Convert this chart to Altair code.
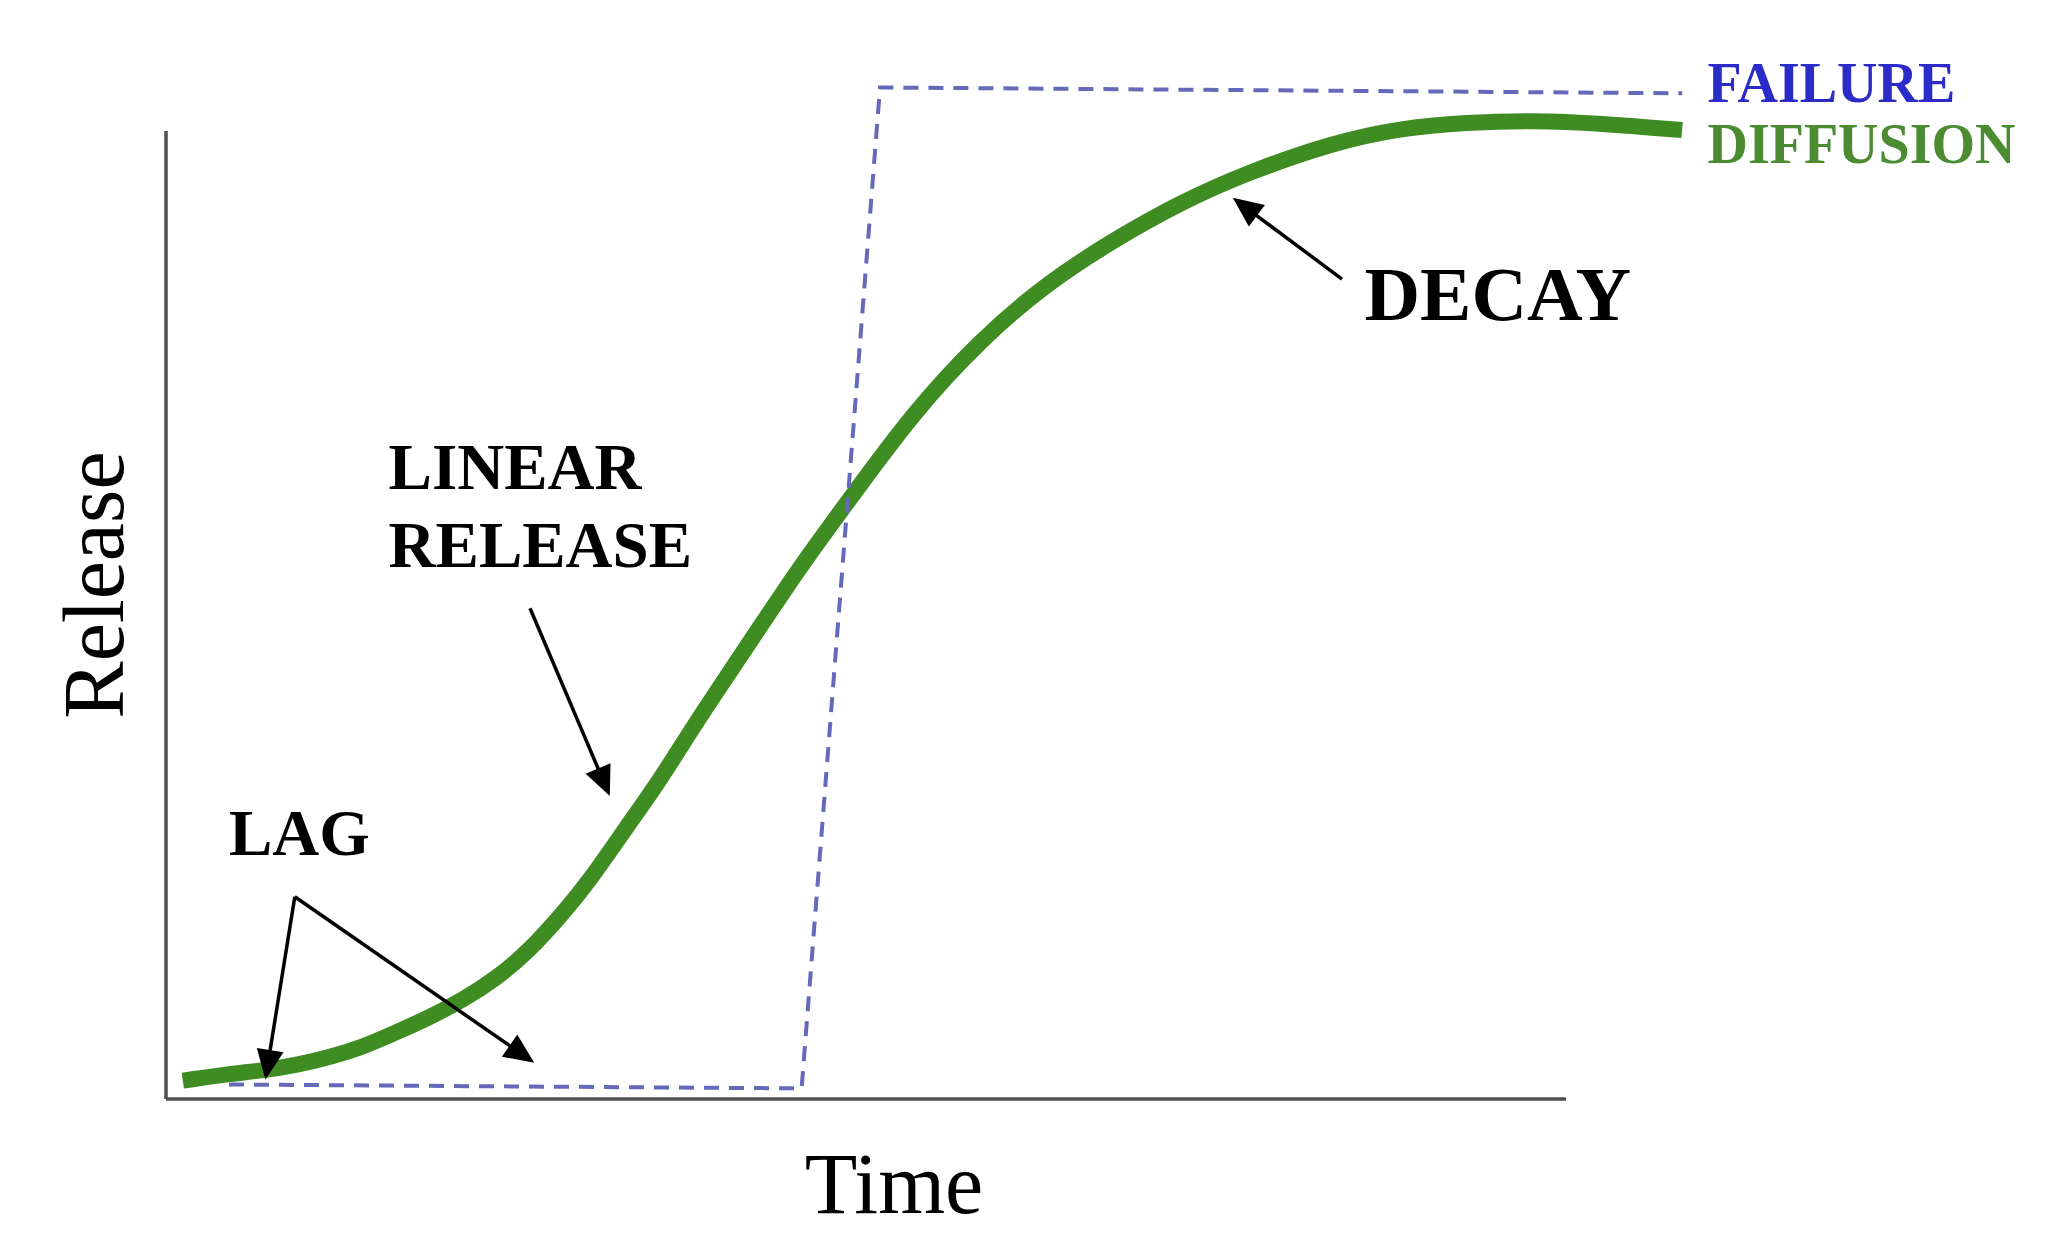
import math
import altair as alt
import pandas as pd

# ---------------- data ----------------
# DIFFUSION curve (green): time vs release, axes run 0..100
diffusion_time = [1.2, 4.57, 6.93, 9.36, 11.71, 14.07, 16.5, 18.86, 21.21, 23.64,
                  26.0, 28.36, 30.29, 32.91, 35.29, 37.66, 40.05, 42.43, 45.29, 48.64,
                  53.36, 58.14, 62.93, 67.64, 72.43, 77.21, 83.36, 88.14, 92.93, 97.64,
                  102.43, 108.29]
diffusion_release = [1.9, 2.6, 2.95, 3.51, 4.34, 5.37, 6.92, 8.47, 10.23, 12.5,
                     15.39, 19.2, 22.62, 28.13, 32.95, 38.46, 43.63, 48.79, 54.99, 61.6,
                     70.9, 78.4, 84.3, 88.7, 92.6, 95.7, 98.8, 100.3, 100.9, 101.1,
                     100.8, 100.1]

# FAILURE curve (blue dashed)
failure_time = [4.5, 45.4, 51.0, 108.3]
failure_release = [1.5, 1.1, 104.5, 103.9]

# annotation labels
label_text = ["LINEAR", "RELEASE", "LAG"]
label_time = [15.9, 15.9, 4.5]
label_release = [65.1, 57.0, 27.3]

decay_text = ["DECAY"]
decay_time = [85.6]
decay_release = [82.9]

# arrows (from -> to)
arrow_from_time = [26.0, 84.0, 9.2, 9.2]
arrow_from_release = [50.7, 84.7, 20.9, 20.9]
arrow_to_time = [31.7, 76.2, 7.1, 26.3]
arrow_to_release = [31.3, 93.1, 2.0, 3.75]

# series end labels
legend_text = ["FAILURE", "DIFFUSION"]
legend_time = [110.1, 110.1]
legend_release = [104.8, 98.5]
legend_color = ["#2b2bc8", "#4b8b32"]

# ---------------- layout ----------------
W, H = 2036, 1240
x_dom = [-11.286, 134.14]
y_dom = [-15.39, 112.71]
px_x = W / (x_dom[1] - x_dom[0])
px_y = H / (y_dom[1] - y_dom[0])

xs = alt.Scale(domain=x_dom, nice=False, zero=False)
ys = alt.Scale(domain=y_dom, nice=False, zero=False)
FONT = "Liberation Serif"


def X(f):
    return alt.X(f, type="quantitative", scale=xs, axis=None)


def Y(f):
    return alt.Y(f, type="quantitative", scale=ys, axis=None)


diff_df = pd.DataFrame({"t": diffusion_time, "r": diffusion_release})
fail_df = pd.DataFrame({"t": failure_time, "r": failure_release})
fail_df["idx"] = range(len(fail_df))

# axes lines
axes_df = pd.DataFrame({"x": [0, 0], "y": [0, 0], "x2": [100, 0], "y2": [0, 100]})
axes = alt.Chart(axes_df).mark_rule(color="#505050", strokeWidth=3.5).encode(
    x=X("x"), y=Y("y"), x2="x2", y2="y2"
)

diff_line = alt.Chart(diff_df).mark_line(
    color="#3f8c22", strokeWidth=16, interpolate="basis", strokeCap="butt"
).encode(x=X("t"), y=Y("r"), order="t:Q")

fail_line = alt.Chart(fail_df).mark_line(
    color="#6469b9", strokeWidth=4, strokeDash=[15, 10]
).encode(x=X("t"), y=Y("r"), order="idx:Q")

# arrows
HEAD_LEN = 30
rows = []
for fx, fy, tx, ty in zip(arrow_from_time, arrow_from_release, arrow_to_time, arrow_to_release):
    dx = (tx - fx) * px_x
    dy = -(ty - fy) * px_y
    ln = math.hypot(dx, dy)
    ang = math.degrees(math.atan2(dx, -dy)) % 360
    back = HEAD_LEN * 0.6 / ln
    ex = tx - (tx - fx) * back
    ey = ty - (ty - fy) * back
    rows.append({"fx": fx, "fy": fy, "ex": ex, "ey": ey, "tx": tx, "ty": ty, "ang": ang})
arr_df = pd.DataFrame(rows)

arrow_lines = alt.Chart(arr_df).mark_rule(color="black", strokeWidth=3.5).encode(
    x=X("fx"), y=Y("fy"), x2="ex", y2="ey"
)
arrow_heads = alt.Chart(arr_df).mark_point(
    shape="M0,0L0.45,1L-0.45,1Z", filled=True, color="black", opacity=1,
    size=(2 * HEAD_LEN) ** 2, strokeWidth=0
).encode(x=X("tx"), y=Y("ty"), angle=alt.Angle("ang:Q", scale=None))

lab_df = pd.DataFrame({"text": label_text, "t": label_time, "r": label_release})
labels = alt.Chart(lab_df).mark_text(
    font=FONT, fontWeight="bold", fontSize=65, align="left", baseline="middle", color="black"
).encode(x=X("t"), y=Y("r"), text="text:N")

dec_df = pd.DataFrame({"text": decay_text, "t": decay_time, "r": decay_release})
decay = alt.Chart(dec_df).mark_text(
    font=FONT, fontWeight="bold", fontSize=77, align="left", baseline="middle", color="black"
).encode(x=X("t"), y=Y("r"), text="text:N")

leg_df = pd.DataFrame({"text": legend_text, "t": legend_time, "r": legend_release, "c": legend_color})
legend = alt.Chart(leg_df).mark_text(
    font=FONT, fontWeight="bold", fontSize=56, align="left", baseline="middle"
).encode(x=X("t"), y=Y("r"), text="text:N", color=alt.Color("c:N", scale=None))

title_df = pd.DataFrame({"text": ["Time"], "t": [52.0], "r": [-9.1]})
xtitle = alt.Chart(title_df).mark_text(
    font=FONT, fontSize=86, align="center", baseline="middle", color="black"
).encode(x=X("t"), y=Y("r"), text="text:N")

ytitle_df = pd.DataFrame({"text": ["Release"], "t": [-4.9], "r": [53.1]})
ytitle = alt.Chart(ytitle_df).mark_text(
    font=FONT, fontSize=86, align="center", baseline="middle", angle=270, color="black"
).encode(x=X("t"), y=Y("r"), text="text:N")

chart = alt.layer(
    axes, diff_line, fail_line, arrow_lines, arrow_heads, labels, decay, legend, xtitle, ytitle
).properties(
    width=W, height=H, padding=0, autosize=alt.AutoSizeParams(type="none"), background="white"
).configure_view(stroke=None)

chart.save("out.html", embed_options={"renderer": "svg", "actions": False})
